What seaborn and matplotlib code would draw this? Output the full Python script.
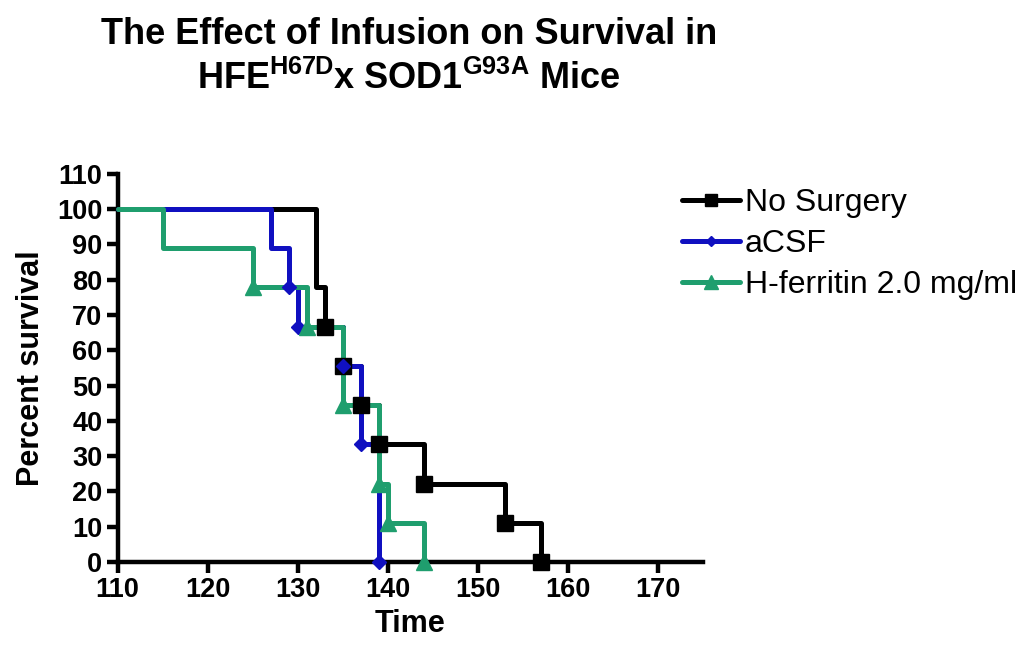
import matplotlib
matplotlib.use("Agg")
import matplotlib.pyplot as plt
from matplotlib.lines import Line2D
import pandas as pd
import seaborn as sns

# survival data (time of drop, percent surviving after it)
no_surgery_t = [132, 133, 135, 137, 139, 144, 153, 157]
no_surgery_s = [77.8, 66.7, 55.6, 44.4, 33.3, 22.2, 11.1, 0]
acsf_t = [127, 129, 130, 135, 137, 139]
acsf_s = [88.9, 77.8, 66.7, 55.6, 33.3, 0]
hfer_t = [115, 125, 131, 135, 139, 140, 144]
hfer_s = [88.9, 77.8, 66.7, 44.4, 22.2, 11.1, 0]

start_t = 110
labels = ["No Surgery", "aCSF", "H-ferritin 2.0 mg/ml"]
colors = ["#000000", "#1010c0", "#1f9e6e"]
markers = ["s", "D", "^"]
msizes = [11, 7, 12]
x_ticks = list(range(110, 171, 10))
y_ticks = list(range(0, 111, 10))

sns.set_style("ticks")
plt.rcParams['font.family'] = ['Liberation Sans', 'DejaVu Sans']
plt.rcParams['mathtext.fontset'] = 'custom'
plt.rcParams['mathtext.bf'] = 'Liberation Sans:bold'
plt.rcParams['mathtext.rm'] = 'Liberation Sans:bold'
for key in ['text.color', 'axes.labelcolor', 'xtick.color', 'ytick.color', 'axes.edgecolor']:
    plt.rcParams[key] = 'black'

fig = plt.figure(figsize=(10.23, 6.54), dpi=100)
ax = fig.add_axes([0.115, 0.141, 0.572, 0.593])

series = [(no_surgery_t, no_surgery_s), (acsf_t, acsf_s), (hfer_t, hfer_s)]
for (t, s), c in zip(series, colors):
    df = pd.DataFrame({"Time": [start_t] + t, "Survival": [100] + s})
    sns.lineplot(data=df, x="Time", y="Survival", estimator=None, sort=False,
                 drawstyle="steps-post", color=c, linewidth=3.6, ax=ax,
                 clip_on=False, zorder=3)

# symbols at each drop except the first one
for (t, s), c, m, ms in zip(series, colors, markers, msizes):
    ax.plot(t[1:], s[1:], linestyle="none", marker=m, color=c, markersize=ms,
            clip_on=False, zorder=4)

ax.set_xlim(110, 175)
ax.set_ylim(0, 110)
ax.set_xticks(x_ticks)
ax.set_yticks(y_ticks)
for lbl in ax.get_xticklabels() + ax.get_yticklabels():
    lbl.set_fontweight("bold")
ax.tick_params(axis="both", direction="out", length=8, width=3.2, labelsize=19.5, pad=3)
sns.despine(ax=ax)
for sp in ["left", "bottom"]:
    ax.spines[sp].set_linewidth(3.2)

ax.set_xlabel("Time", fontsize=22, fontweight="bold", labelpad=4)
ax.set_ylabel("Percent survival", fontsize=22, fontweight="bold", labelpad=8)

fig.text(0.40, 0.948, "The Effect of Infusion on Survival in", ha="center", va="center",
         fontsize=26, fontweight="bold")
fig.text(0.40, 0.880, r"HFE$^{\mathbf{H67D}}$x SOD1$^{\mathbf{G93A}}$ Mice", ha="center",
         va="center", fontsize=26, fontweight="bold")

handles = [Line2D([0], [0], color=c, marker=m, markersize=ms * 0.8, linewidth=3.6)
           for c, m, ms in zip(colors, markers, msizes)]
ax.legend(handles, labels, loc="upper left", bbox_to_anchor=(0.916, 1.037), frameon=False,
          fontsize=23, handlelength=1.8, handletextpad=0.15, labelspacing=0.34)

fig.savefig("out.png", dpi=100)
